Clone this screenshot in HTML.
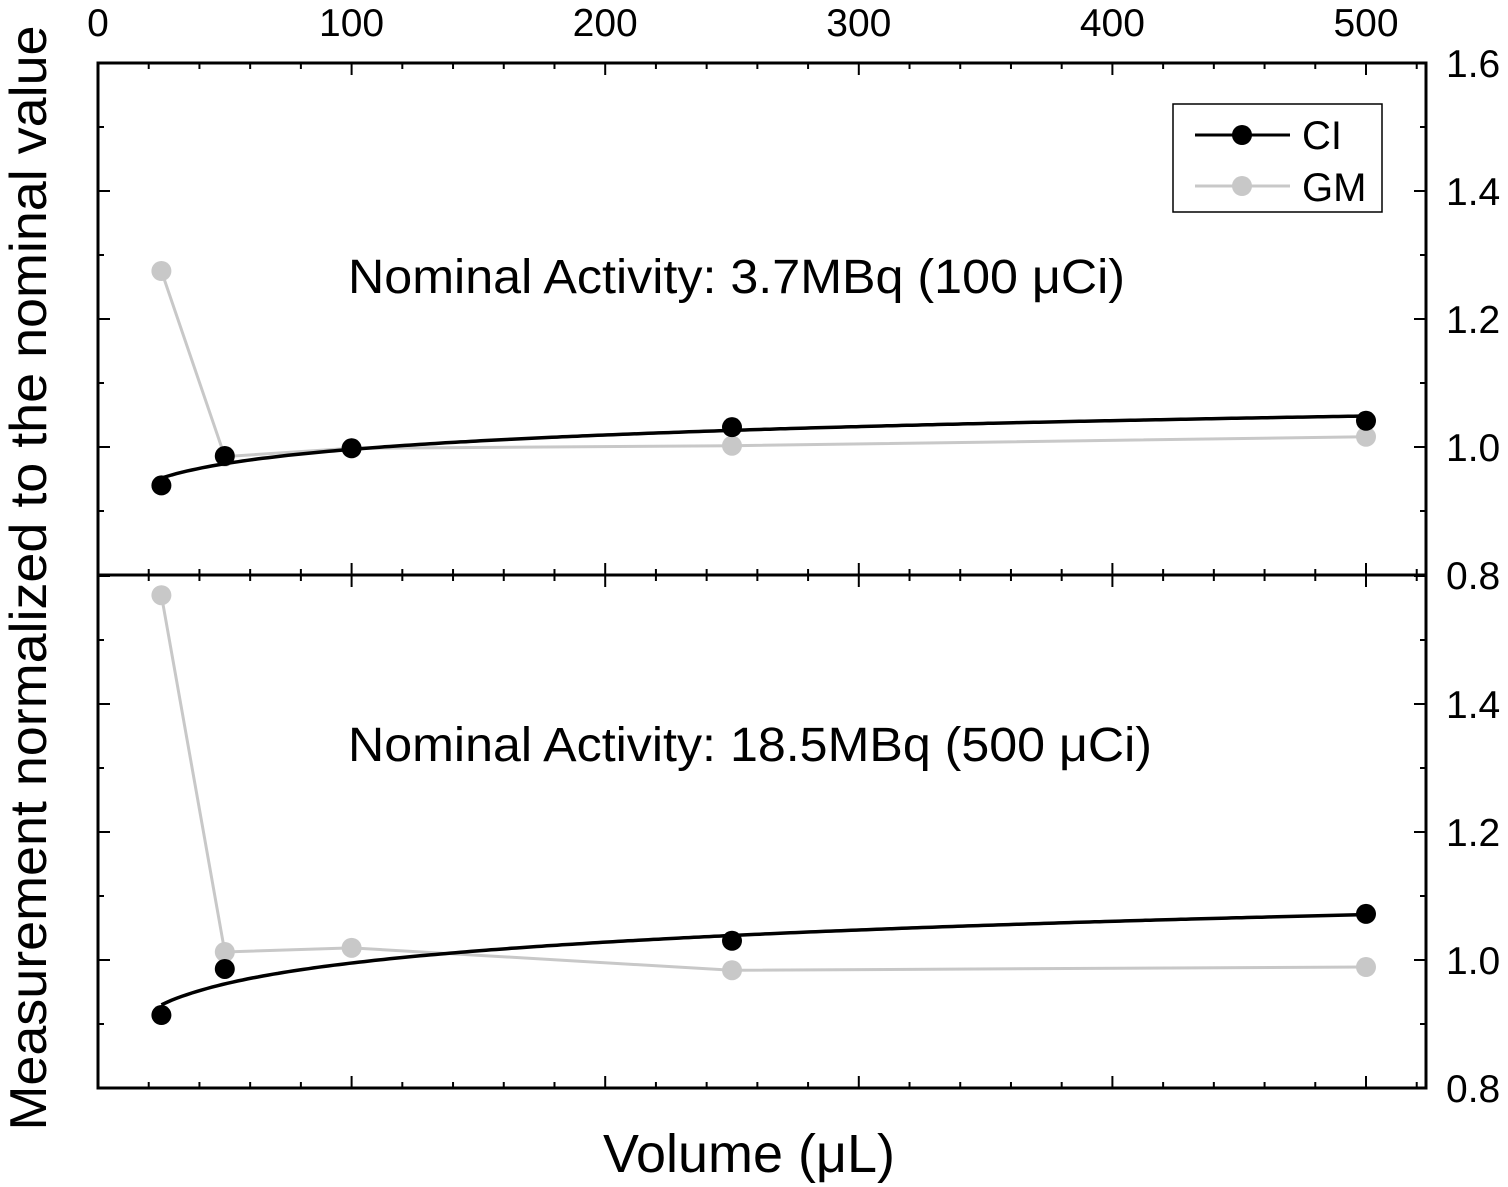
<!DOCTYPE html>
<html><head><meta charset="utf-8"><style>
body{margin:0;background:#fff}
svg{display:block;font-family:"Liberation Sans",Arial,sans-serif}
</style></head><body>
<svg id="chart" width="1508" height="1187" xmlns="http://www.w3.org/2000/svg">
<g id="grid"></g>
<g id="series"></g>
<rect x="98" y="63" width="1328" height="1025" fill="none" stroke="#000" stroke-width="3"/>
<line x1="98" y1="575" x2="1426" y2="575" stroke="#000" stroke-width="3"/>
<text x="348" y="293" font-size="48" textLength="777" lengthAdjust="spacingAndGlyphs">Nominal Activity: 3.7MBq (100 μCi)</text>
<text x="348" y="761" font-size="48" textLength="804" lengthAdjust="spacingAndGlyphs">Nominal Activity: 18.5MBq (500 μCi)</text>
<text x="749" y="1172" font-size="54" text-anchor="middle" textLength="292" lengthAdjust="spacingAndGlyphs">Volume (μL)</text>
<text transform="translate(46,578) rotate(-90)" font-size="52" text-anchor="middle" textLength="1105" lengthAdjust="spacingAndGlyphs">Measurement normalized to the nominal value</text>
<g>
<rect x="1173" y="104" width="209" height="108" fill="#fff" stroke="#000" stroke-width="1.5"/>
<line x1="1195" y1="135" x2="1290" y2="135" stroke="#000" stroke-width="3"/>
<circle cx="1242" cy="135" r="10" fill="#000"/>
<text x="1302" y="149" font-size="40">CI</text>
<line x1="1195" y1="186" x2="1290" y2="186" stroke="#c8c8c8" stroke-width="3"/>
<circle cx="1242" cy="186" r="10" fill="#c8c8c8"/>
<text x="1302" y="201" font-size="40">GM</text>
</g>
</svg>
<script>
const xValsTop = [25, 50, 100, 250, 500];
const ciTop = [0.940, 0.986, 0.998, 1.031, 1.041];
const gmTop = [1.275, 0.985, 0.998, 1.002, 1.016];
const xValsCIBottom = [25, 50, 250, 500];
const ciBottom = [0.914, 0.986, 1.030, 1.072];
const xValsGMBottom = [25, 50, 100, 250, 500];
const gmBottom = [1.570, 1.0125, 1.019, 0.984, 0.989];
const xTicks = [0, 100, 200, 300, 400, 500];
const yTicks = [0.8, 1.0, 1.2, 1.4, 1.6];

const NS = "http://www.w3.org/2000/svg";
const L = 98, R = 1426;
const xs = v => 98 + v * 2.536;
const yTop = v => 447 - (v - 1.0) * 640;
const yBot = v => 960 - (v - 1.0) * 640;
const grid = document.getElementById('grid');
const ser = document.getElementById('series');
function mk(tag, attrs, parent){const e=document.createElementNS(NS,tag);for(const k in attrs)e.setAttribute(k,attrs[k]);parent.appendChild(e);return e;}

for (let v = 0; v <= 520; v += 20) {
  const x = xs(v); const major = v % 100 === 0; const len = major ? 12 : 6;
  [[63,1],[575,1],[575,-1],[1088,-1]].forEach(([y,d])=>{
    const t = mk('line',{x1:x,y1:y,x2:x,y2:y+d*len,stroke:'#000','stroke-width':2},grid);
    
    
  });
}
xTicks.forEach(v=>{
  const t = mk('text',{x:xs(v),y:36,'font-size':39,'text-anchor':'middle'},grid);
  t.textContent = v;
  
  
});
for (let i = 0; i <= 8; i++) {
  const v = 0.8 + i * 0.1; const major = i % 2 === 0; const len = major ? 12 : 6;
  [yTop(v), yBot(v)].forEach(y=>{
    [[L,1],[R,-1]].forEach(([x,d])=>{
      const t = mk('line',{x1:x,y1:y,x2:x+d*len,y2:y,stroke:'#000','stroke-width':2},grid);
      
      
    });
  });
}
yTicks.forEach(v=>{
  const t1 = mk('text',{x:1446,y:yTop(v)+14,'font-size':39},grid);
  t1.textContent = v.toFixed(1);
  
  
  if (v < 1.55) {
    const t2 = mk('text',{x:1446,y:yBot(v)+14,'font-size':39},grid);
    t2.textContent = v.toFixed(1);
    
    
  }
});

function logFit(xv, yv){
  const n=xv.length; let sx=0,sy=0,sxx=0,sxy=0;
  for(let i=0;i<n;i++){const l=Math.log(xv[i]);sx+=l;sy+=yv[i];sxx+=l*l;sxy+=l*yv[i];}
  const b=(n*sxy-sx*sy)/(n*sxx-sx*sx); const a=(sy-b*sx)/n; return x=>a+b*Math.log(x);
}
function drawFit(xv, yv, yf, name){
  const f = logFit(xv, yv); let d='';
  for(let x=xv[0]; x<=xv[xv.length-1]; x+=2){ d += (d?'L':'M') + xs(x).toFixed(1) + ',' + yf(f(x)).toFixed(1); }
  const p = mk('path',{d:d,fill:'none',stroke:'#000','stroke-width':3.5},ser);
  
  
}
function drawLine(xv, yv, yf, color, name){
  const pts = xv.map((x,i)=>xs(x)+','+yf(yv[i])).join(' ');
  const p = mk('polyline',{points:pts,fill:'none',stroke:color,'stroke-width':3},ser);
  
  
}
function drawPts(xv, yv, yf, color, name){
  xv.forEach((x,i)=>{
    const c = mk('circle',{cx:xs(x),cy:yf(yv[i]),r:10,fill:color},ser);
    
    
  });
}
drawLine(xValsTop, gmTop, yTop, '#c8c8c8', 'gm-line-top');
drawPts(xValsTop, gmTop, yTop, '#c8c8c8', 'gm-point-top');
drawLine(xValsGMBottom, gmBottom, yBot, '#c8c8c8', 'gm-line-bottom');
drawPts(xValsGMBottom, gmBottom, yBot, '#c8c8c8', 'gm-point-bottom');
drawFit(xValsTop, ciTop, yTop, 'ci-fit-top');
drawPts(xValsTop, ciTop, yTop, '#000', 'ci-point-top');
drawFit(xValsCIBottom, ciBottom, yBot, 'ci-fit-bottom');
drawPts(xValsCIBottom, ciBottom, yBot, '#000', 'ci-point-bottom');
</script>
</body></html>
